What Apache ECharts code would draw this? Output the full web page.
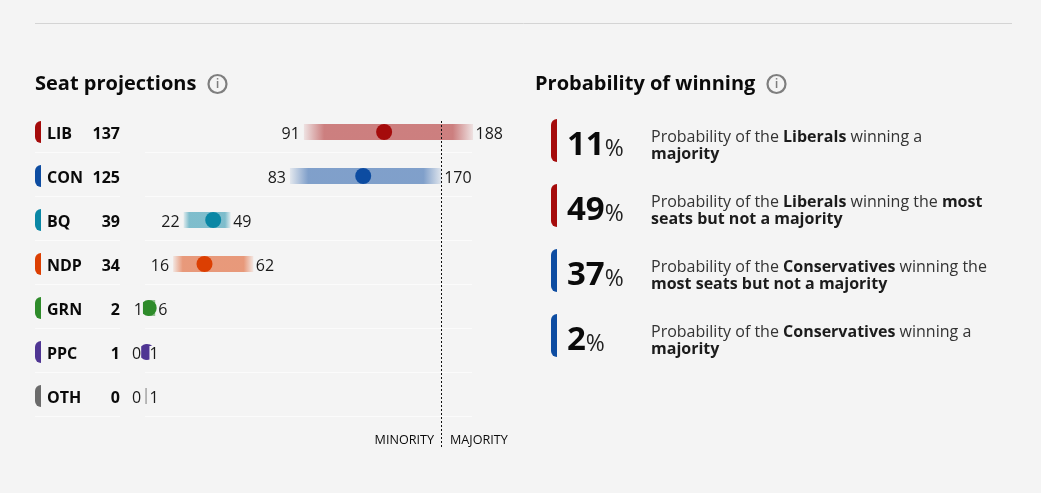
<!DOCTYPE html>
<html><head><meta charset="utf-8">
<style>html,body{margin:0;padding:0;background:#f4f4f4}#c{width:1041px;height:493px}</style>
<script src="https://cdn.jsdelivr.net/npm/echarts@6/dist/echarts.min.js"></script>
</head><body><div id="c"></div>
<script>
const parties = ['LIB','CON','BQ','NDP','GRN','PPC','OTH'];
const seats = [137,125,39,34,2,1,0];
const lows = [91,83,22,16,1,0,0];
const highs = [188,170,49,62,6,1,1];
const colors = ['#a50b0b','#0d4ca1','#0a87a5','#dc3f02','#2e8b2a','#4f3593','#6b6b6b'];
const majorityLine = 170;
const probValues = [11,49,37,2];
const probColors = ['#a50b0b','#a50b0b','#0d4ca1','#0d4ca1'];
const probTexts = [
  'Probability of the {b|Liberals} winning a\n{b|majority}',
  'Probability of the {b|Liberals} winning the {b|most}\n{b|seats but not a majority}',
  'Probability of the {b|Conservatives} winning the\n{b|most seats but not a majority}',
  'Probability of the {b|Conservatives} winning a\n{b|majority}'
];
const FONT = '"Open Sans", sans-serif';
const INK = '#0a0a0a';

function hexA(hex, a){
  const n = parseInt(hex.slice(1),16);
  return `rgba(${n>>16},${(n>>8)&255},${n&255},${a})`;
}
function infoIcon(cx, cy){
  return [
    {type:'circle',shape:{cx,cy,r:9},style:{fill:'none',stroke:'#7e7e7e',lineWidth:2.2}},
    {type:'text',style:{x:cx,y:cy+0.5,text:'i',align:'center',verticalAlign:'middle',font:'600 13px '+FONT,fill:'#7e7e7e'}}
  ];
}
const graphic = [
  {type:'line',shape:{x1:35,y1:23.5,x2:1012,y2:23.5},style:{stroke:'#d4d4d4',lineWidth:1}},
  {type:'text',style:{x:35,y:84,text:'Seat projections',verticalAlign:'middle',font:'700 20px '+FONT,fill:INK}},
  {type:'text',style:{x:535,y:84,text:'Probability of winning',verticalAlign:'middle',font:'700 20px '+FONT,fill:INK}},
  ...infoIcon(217.5,84),...infoIcon(776.5,84),
  {type:'text',style:{x:434,y:440,text:'MINORITY',align:'right',verticalAlign:'middle',font:'400 12.6px '+FONT,fill:INK}},
  {type:'text',style:{x:450,y:440,text:'MAJORITY',verticalAlign:'middle',font:'400 12.6px '+FONT,fill:INK}}
];
probValues.forEach((v,i)=>{
  const top = 119 + 65*i;
  graphic.push(
    {type:'rect',shape:{x:551,y:top,width:6,height:43,r:[6,0,0,6]},style:{fill:probColors[i]}},
    {type:'text',style:{x:567,y:top+27,verticalAlign:'middle',text:`{n|${v}}{p|%}`,
      rich:{n:{font:'700 33px '+FONT,fill:INK},p:{font:'400 23px '+FONT,fill:'#222',padding:[6,0,0,0]}}}},
    {type:'text',style:{x:651,y:top+26.5,verticalAlign:'middle',text:probTexts[i],font:'400 16px '+FONT,lineHeight:17,fill:'#333',
      rich:{b:{font:'700 16px '+FONT,fill:'#1c1c1c',lineHeight:17}}}}
  );
});

const rowData = parties.map((p,i)=>[lows[i],i,highs[i],seats[i],p]);

const chart = echarts.init(document.getElementById('c'),null,{renderer:'canvas'});
chart.setOption({
  animation:false,
  backgroundColor:'#f4f4f4',
  textStyle:{fontFamily:FONT},
  grid:{left:145.2,width:348.8,top:110,height:308},
  xAxis:{type:'value',min:0,max:200,show:false},
  yAxis:{type:'category',data:parties,inverse:true,show:false},
  graphic:graphic,
  series:[
    { type:'custom', clip:false, z:1, data:rowData, encode:{x:0,y:1},
      renderItem(params,api){
        const i = api.value(1);
        const y = api.coord([0,i])[1];
        const x0 = api.coord([api.value(0),i])[0];
        const x1 = api.coord([api.value(2),i])[0];
        const c = colors[i];
        const w = Math.max(x1-x0,1);
        const children = [
          {type:'line',shape:{x1:35,y1:y+20.5,x2:120,y2:y+20.5},style:{stroke:'#fbfbfb',lineWidth:1}},
          {type:'line',shape:{x1:145,y1:y+20.5,x2:472,y2:y+20.5},style:{stroke:'#fbfbfb',lineWidth:1}},
          {type:'rect',shape:{x:35,y:y-11,width:6,height:22,r:[6,0,0,6]},style:{fill:c}},
          {type:'text',style:{x:47,y:y+2,text:api.value(4),verticalAlign:'middle',font:'700 16px '+FONT,fill:INK}},
          {type:'text',style:{x:120,y:y+2,text:String(api.value(3)),align:'right',verticalAlign:'middle',font:'700 16px '+FONT,fill:INK}},
          {type:'rect',shape:{x:x0,y:y-8,width:w,height:16},style:{fill:new echarts.graphic.LinearGradient(0,0,1,0,[
            {offset:0,color:hexA(c,0.08)},{offset:0.12,color:hexA(c,0.5)},
            {offset:0.88,color:hexA(c,0.5)},{offset:1,color:hexA(c,0.08)}])}}
        ];
        return {type:'group',children};
      }
    },
    { type:'scatter', z:3, symbol:'circle', symbolSize:16, clip:false,
      data:seats.map((s,i)=>({value:[s,i],itemStyle:{color:colors[i],opacity:i===6?0:1}}))
    },
    { type:'custom', clip:false, z:4, data:rowData, encode:{x:0,y:1},
      renderItem(params,api){
        const i = api.value(1);
        const y = api.coord([0,i])[1];
        const x0 = api.coord([api.value(0),i])[0];
        const x1 = api.coord([api.value(2),i])[0];
        return {type:'group',children:[
          {type:'text',style:{x:x0-4,y:y+2,text:String(api.value(0)),align:'right',verticalAlign:'middle',font:'400 16px '+FONT,fill:'#1a1a1a',backgroundColor:'#f4f4f4'}},
          {type:'text',style:{x:x1+2.5,y:y+2,text:String(api.value(2)),verticalAlign:'middle',font:'400 16px '+FONT,fill:'#1a1a1a',backgroundColor:'#f4f4f4'}}
        ]};
      }
    },
    { type:'custom', clip:false, z:5, data:[[majorityLine]], encode:{x:0},
      renderItem(params,api){
        const x = Math.floor(api.coord([api.value(0),0])[0])+0.5;
        const y0 = api.coord([0,0])[1]-11;
        const y1 = api.coord([0,parties.length-1])[1]+51;
        return {type:'line',shape:{x1:x,y1:y0,x2:x,y2:y1},style:{stroke:'#111',lineWidth:1,lineDash:[2,2]}};
      }
    }
  ]
});
</script></body></html>
